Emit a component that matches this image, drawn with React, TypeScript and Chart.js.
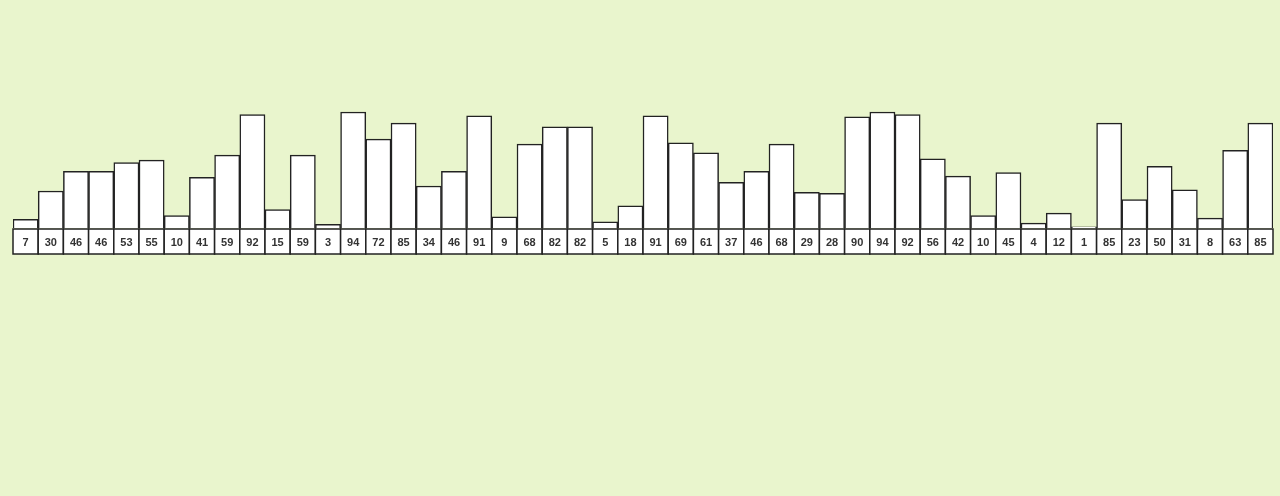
import React, { useEffect, useRef } from "react";
import { Chart, registerables } from "chart.js";

Chart.register(...registerables);

const categories: string[] = Array.from({ length: 50 }, (_, i) => `c${i + 1}`);
const values: number[] = [
  7, 30, 46, 46, 53, 55, 10, 41, 59, 92, 15, 59, 3, 94, 72, 85, 34, 46, 91, 9,
  68, 82, 82, 5, 18, 91, 69, 61, 37, 46, 68, 29, 28, 90, 94, 92, 56, 42, 10, 45,
  4, 12, 1, 85, 23, 50, 31, 8, 63, 85,
];

const BG = "#e9f5cd";
const STROKE = "#222222";

const labelBoxes = {
  id: "labelBoxes",
  afterDatasetsDraw(chart: any) {
    const { ctx, chartArea } = chart;
    const meta = chart.getDatasetMeta(0);
    const top = chartArea.bottom + 1;
    const h = 25;
    ctx.save();
    ctx.lineWidth = 1.5;
    ctx.strokeStyle = STROKE;
    ctx.font = "bold 11px 'Liberation Sans', Arial, sans-serif";
    ctx.fillStyle = "#333333";
    ctx.textAlign = "center";
    ctx.textBaseline = "middle";
    meta.data.forEach((bar: any, i: number) => {
      const w = bar.width;
      const x0 = bar.x - w / 2;
      ctx.fillStyle = "#ffffff";
      ctx.fillRect(x0, top, w, h);
      ctx.strokeRect(x0, top, w, h);
      ctx.fillStyle = "#333333";
      ctx.fillText(String(values[i]), bar.x, top + h / 2 + 1);
    });
    ctx.restore();
  },
};

const bgPlugin = {
  id: "bg",
  beforeDraw(chart: any) {
    const { ctx, width, height } = chart;
    ctx.save();
    ctx.fillStyle = BG;
    ctx.fillRect(0, 0, width, height);
    ctx.restore();
  },
};

export default function App() {
  const ref = useRef<HTMLCanvasElement | null>(null);
  useEffect(() => {
    if (!ref.current) return;
    const chart = new Chart(ref.current, {
      type: "bar",
      data: {
        labels: categories,
        datasets: [
          {
            data: values,
            backgroundColor: "#ffffff",
            borderColor: STROKE,
            borderWidth: 1.5,
            barPercentage: 1,
            categoryPercentage: 1,
          },
        ],
      },
      options: {
        animation: false,
        responsive: false,
        maintainAspectRatio: false,
        layout: { padding: { left: 13, right: 7, top: 104.6, bottom: 268 } },
        plugins: { legend: { display: false }, tooltip: { enabled: false } },
        scales: {
          x: { display: false },
          y: { display: false, min: 0, max: 100 },
        },
      },
      plugins: [bgPlugin, labelBoxes],
    });
    return () => chart.destroy();
  }, []);
  return (
    <div style={{ position: "fixed", left: 0, top: 0, width: 1280, height: 496, background: BG }}>
      <canvas ref={ref} width={1280} height={496} style={{ display: "block" }} />
    </div>
  );
}
